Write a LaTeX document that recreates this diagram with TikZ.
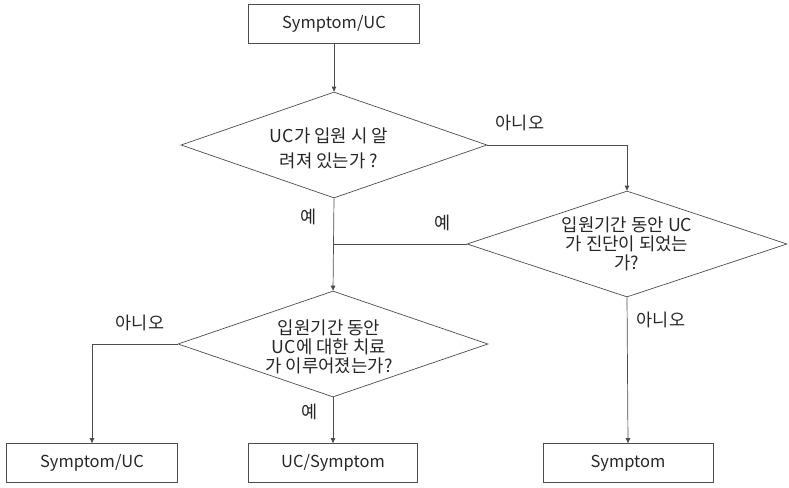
\documentclass[tikz,border=0pt]{standalone}
\usepackage{fontspec}
\setmainfont{Noto Sans CJK KR}
\usetikzlibrary{shapes.geometric,arrows.meta}
\begin{document}
\begin{tikzpicture}[x=1pt,y=-1pt,
  every node/.style={font=\fontsize{16.5}{19}\selectfont, text=black!85},
  box/.style={draw=black!70, line width=0.7pt, rectangle, minimum width=171pt, minimum height=39pt, inner sep=0pt},
  dia/.style={draw=black!70, line width=0.7pt, diamond, inner sep=0pt},
  dtext/.style={align=center, inner sep=0pt, font=\fontsize{17.8}{19}\selectfont},
  lbl/.style={inner sep=0pt, font=\fontsize{17.5}{19}\selectfont},
  line/.style={draw=black!70, line width=0.7pt},
  arr/.style={line, -{Triangle[length=5pt,width=4.5pt]}}]
\useasboundingbox (0,0) rectangle (789,487);
\node[box] (top) at (334,24) {Symptom/UC};
\node[dia, minimum width=306pt, minimum height=106pt] (d1) at (334,145) {};
\node[dtext, font=\fontsize{17.8}{25}\selectfont] (d1t) at (329,148) {UC가 입원 시 알\\려져 있는가 ?};
\node[dia, minimum width=320pt, minimum height=106pt] (d2) at (627,244) {};
\node[dtext] (d2t) at (627,244) {입원기간 동안 UC\\가 진단이 되었는\\가?};
\node[dia, minimum width=310pt, minimum height=106pt] (d3) at (333,344) {};
\node[dtext] (d3t) at (329,347) {입원기간 동안\\UC에 대한 치료\\가 이루어졌는가?};
\node[box] (lb) at (92,463) {Symptom/UC};
\node[box, minimum width=169pt] (mb) at (333,463) {UC/Symptom};
\node[box, minimum width=170pt] (rb) at (628,463) {Symptom};
\coordinate (j) at (d1.south |- d2.west);
\draw[arr] (top) -- (d1.north);
\draw[arr] (d1.east) -| (d2.north);
\draw[arr] (d1.south) -- (d3.north);
\draw[line] (d2.west) -- (j);
\draw[arr] (d3.west) -| (lb.north);
\draw[arr] (d3.south) -- (mb.north);
\draw[arr] (d2.south) -- (rb.north);
\node[lbl] (l1) at (520,123) {아니오};
\node[lbl] (l2) at (309,217) {예};
\node[lbl] (l3) at (443,223) {예};
\node[lbl] (l4) at (140,323) {아니오};
\node[lbl] (l5) at (310,412) {예};
\node[lbl] (l6) at (661,320) {아니오};
\end{tikzpicture}
\end{document}
